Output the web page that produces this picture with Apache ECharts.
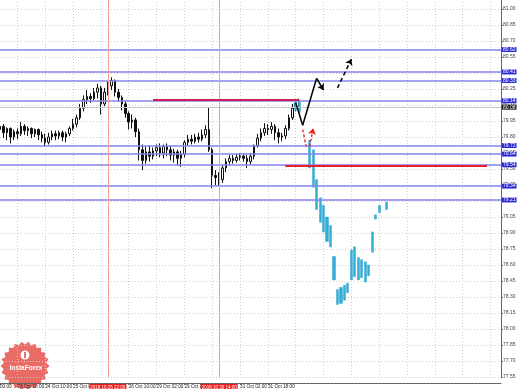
<!DOCTYPE html>
<html><head><meta charset="utf-8">
<script src="https://cdn.jsdelivr.net/npm/echarts@6/dist/echarts.min.js"></script>
<style>html,body{margin:0;padding:0;background:#fff}#c{width:519px;height:389px}</style>
</head><body><div id="c"></div>
<script>
// ---- data ----
const slotCount = 145;
const tickSlots = [0, 5, 13, 21, 37, 45, 53, 69, 77];
const tickLabels = ['00:00', '23 Oct 18:00', '24 Oct 10:00', '25 Oct 02:00', '26 Oct 10:00', '29 Oct 02:00', '29 Oct 18:00', '31 Oct 02:00', '31 Oct 18:00'];

const opens = [79.87,79.90,79.84,79.88,79.80,79.85,79.83,79.90,79.86,79.88,79.83,79.87,79.82,79.79,79.75,79.80,79.83,79.81,79.84,79.80,79.83,79.88,79.92,79.98,80.07,80.15,80.18,80.16,80.22,80.26,80.11,80.22,80.28,80.33,80.22,80.17,80.11,80.02,79.94,79.96,79.85,79.68,79.58,79.66,79.62,79.67,79.70,79.65,79.71,79.68,79.63,79.66,79.60,79.64,79.75,79.78,79.76,79.80,79.78,79.82,79.87,79.68,79.44,79.42,79.40,79.51,79.57,79.60,79.58,79.61,79.62,79.60,79.57,79.62,79.72,79.79,79.84,79.88,79.87,79.90,79.84,79.80,79.81,79.88,79.98,80.07,80.12];
const closes = [79.90,79.84,79.88,79.80,79.85,79.83,79.90,79.86,79.88,79.83,79.87,79.82,79.79,79.75,79.80,79.83,79.81,79.84,79.80,79.83,79.88,79.92,79.98,80.07,80.15,80.18,80.16,80.22,80.26,80.11,80.22,80.28,80.33,80.22,80.17,80.11,80.02,79.94,79.96,79.85,79.68,79.58,79.66,79.62,79.67,79.70,79.65,79.71,79.68,79.63,79.66,79.60,79.64,79.75,79.78,79.76,79.80,79.78,79.82,79.87,79.68,79.44,79.42,79.40,79.51,79.57,79.60,79.58,79.61,79.62,79.60,79.57,79.62,79.72,79.79,79.84,79.88,79.87,79.90,79.84,79.80,79.81,79.88,79.98,80.07,80.12,80.08];
const lows = [79.83,79.79,79.77,79.74,79.77,79.78,79.81,79.82,79.81,79.79,79.80,79.77,79.75,79.71,79.73,79.77,79.77,79.78,79.76,79.75,79.81,79.86,79.89,79.96,80.04,80.11,80.12,80.14,80.16,80.01,80.09,80.19,80.24,80.18,80.13,80.05,79.98,79.87,79.88,79.80,79.58,79.49,79.55,79.57,79.59,79.62,79.61,79.60,79.62,79.58,79.56,79.53,79.52,79.61,79.72,79.73,79.74,79.75,79.76,79.79,79.66,79.32,79.35,79.34,79.37,79.47,79.54,79.55,79.56,79.58,79.57,79.51,79.54,79.59,79.70,79.76,79.81,79.82,79.83,79.77,79.74,79.76,79.78,79.86,79.96,80.04,80.06];
const highs = [79.93,79.92,79.89,79.89,79.87,79.88,79.94,79.92,79.90,79.89,79.88,79.88,79.85,79.83,79.84,79.86,79.86,79.86,79.86,79.85,79.90,79.97,80.01,80.11,80.19,80.24,80.21,80.26,80.30,80.28,80.26,80.32,80.36,80.34,80.25,80.19,80.14,80.04,80.01,79.98,79.88,79.73,79.71,79.72,79.70,79.73,79.74,79.73,79.74,79.72,79.69,79.68,79.67,79.77,79.82,79.82,79.83,79.84,79.87,79.91,80.08,79.70,79.49,79.47,79.54,79.60,79.63,79.63,79.64,79.65,79.65,79.63,79.65,79.73,79.83,79.88,79.93,79.92,79.94,79.92,79.88,79.84,79.91,80.01,80.11,80.15,80.16];

// actual price bars (cyan)
const actualSlots = [85,86,89,90,91,92,93,94,95,96,97,98,99,100,101,102,103,104,105,106,107,108,109,111];
const actualHigh = [80.15,80.13,79.77,79.68,79.40,79.23,79.16,79.05,78.97,78.68,78.37,78.39,78.41,78.43,78.74,78.77,78.67,78.65,78.63,78.60,78.91,79.07,79.16,79.19];
const actualLow  = [80.05,80.03,79.51,79.33,79.12,79.00,78.91,78.82,78.77,78.46,78.23,78.24,78.27,78.34,78.46,78.49,78.46,78.48,78.44,78.50,78.72,79.03,79.09,79.12];

// horizontal levels
const levelPrices = [80.62, 80.41, 80.33, 80.14, 79.72, 79.64, 79.54, 79.34, 79.21];
const currentPrice = 80.08;
const redPrices = [80.15, 79.53];
const redFrom = [44, 82];
const redTo = [86, 140];
const redColors = ['#cc1f55', '#e8202c'];
const vLineSlots = [31, 63];
const vLineLabels = ['2018.10.25 22:00', '2018.10.30 14:00'];

// forecast drawings
const zigX = [85, 87, 91, 93];
const zigY = [80.12, 79.91, 80.35, 80.24];
const dashX = [97, 101];
const dashY = [80.26, 80.53];
const redDashX = [87, 88, 89, 90];
const redDashY = [79.87, 79.71, 79.71, 79.88];

// ---- build ----
const cats = Array.from({length: slotCount}, (_, i) => String(i));
const candleData = opens.map((o, i) => [o, closes[i], lows[i], highs[i]]);
const actualData = actualSlots.map((s, i) => [s, actualHigh[i], actualLow[i], actualLow[i], actualHigh[i]]);
const FONT = 'Liberation Sans';

const ml = [];
levelPrices.forEach(p => ml.push({
  yAxis: p,
  lineStyle: {color: '#8585ec', width: 1.5, type: 'solid', opacity: 1},
  label: {show: true, position: 'end', distance: 1, formatter: p.toFixed(2), backgroundColor: '#2b2bd6', color: '#fff', fontSize: 5, fontFamily: FONT, padding: [0, 1]}
}));
ml.push({
  yAxis: currentPrice,
  lineStyle: {color: '#c4c4c4', width: 1, type: 'solid', opacity: 1},
  label: {show: true, position: 'end', distance: 1, formatter: currentPrice.toFixed(2), backgroundColor: '#111', color: '#fff', fontSize: 5, fontFamily: FONT, padding: [0, 1]}
});
vLineSlots.forEach((s, i) => ml.push({
  xAxis: s,
  lineStyle: {color: '#f2a08c', width: 1, type: 'solid', opacity: 1},
  label: {show: true, position: 'start', distance: 7, formatter: vLineLabels[i], backgroundColor: '#ee1c1c', color: '#fff', fontSize: 4.5, fontFamily: FONT, padding: [1, 1]}
}));
redPrices.forEach((p, i) => ml.push([
  {coord: [redFrom[i], p], lineStyle: {color: redColors[i], width: 2, type: 'solid', opacity: 1}, label: {show: false}},
  {coord: [redTo[i], p]}
]));

function segs(xs, ys, pairs, style) {
  return pairs.map(([a, b]) => ({coords: [[xs[a], ys[a]], [xs[b], ys[b]]], lineStyle: Object.assign({opacity: 1, curveness: 0}, style)}));
}

const starPts = [];
const nSp = 22;
for (let i = 0; i < 2 * nSp; i++) {
  const r = i % 2 ? 21.5 : 24.5;
  const a = Math.PI * i / nSp;
  starPts.push([25 + r * Math.cos(a), 366 + r * Math.sin(a)]);
}

const chart = echarts.init(document.getElementById('c'), null, {renderer: 'canvas'});
chart.setOption({
  animation: false,
  backgroundColor: '#ffffff',
  grid: {left: 0, right: 18, top: -7, bottom: 12, outerBoundsMode: 'none', containLabel: false},
  xAxis: {
    type: 'category', data: cats, boundaryGap: false, offset: 6,
    axisLine: {show: true, lineStyle: {color: '#666', width: 1}},
    axisTick: {show: true, length: 2, interval: (i) => tickSlots.includes(i), lineStyle: {color: '#666'}},
    axisLabel: {
      interval: (i) => tickSlots.includes(i),
      formatter: (v, i) => { const k = tickSlots.indexOf(i); return k >= 0 ? tickLabels[k] : ''; },
      align: 'left', fontSize: 4.7, fontFamily: FONT, color: '#222', margin: 1
    },
    splitLine: {show: true, interval: (i) => i % 8 === 5, lineStyle: {color: '#cfcfcf', type: [1, 2], width: 1}}
  },
  yAxis: {
    type: 'value', position: 'right', min: 77.55, max: 81.15, interval: 0.15,
    axisLine: {show: true, lineStyle: {color: '#666', width: 1}},
    axisTick: {show: true, length: 2, lineStyle: {color: '#666'}},
    axisLabel: {fontSize: 5, fontFamily: FONT, color: '#444', margin: 2, formatter: v => v.toFixed(2)},
    splitLine: {show: true, lineStyle: {color: '#cfcfcf', type: [1, 2], width: 1}}
  },
  graphic: [
    {type: 'polygon', shape: {points: starPts}, style: {fill: '#e4514b', opacity: 0.85}, z: -10, silent: true},
    {type: 'circle', shape: {cx: 25, cy: 355, r: 4.5}, style: {fill: '#ffffff'}, z: -9, silent: true},
    {type: 'rect', shape: {x: 24.2, y: 352, width: 1.6, height: 6}, style: {fill: '#e4514b'}, z: -8, silent: true},
    {type: 'text', style: {text: 'InstaForex', x: 26, y: 368, fill: '#ffffff', font: 'bold 6.5px "Liberation Sans"', textAlign: 'center', textVerticalAlign: 'middle', align: 'center', verticalAlign: 'middle'}, z: -9, silent: true}
  ],
  series: [
    {
      name: 'history', type: 'candlestick', data: candleData, barWidth: 2, silent: true,
      itemStyle: {color: '#ffffff', color0: '#111111', borderColor: '#111111', borderColor0: '#111111', borderWidth: 1},
      markLine: {silent: true, symbol: ['none', 'none'], animation: false, data: ml}
    },
    {
      name: 'actual', type: 'candlestick', data: actualData, encode: {x: 0, y: [1, 2, 3, 4]}, barWidth: 2.6, silent: true, z: 3,
      itemStyle: {color: '#35acd2', color0: '#35acd2', borderColor: '#35acd2', borderColor0: '#35acd2', borderWidth: 0.5}
    },
    {
      name: 'forecastSegs', type: 'lines', coordinateSystem: 'cartesian2d', silent: true, z: 6, symbol: ['none', 'none'],
      lineStyle: {opacity: 1},
      data: [
        ...segs(zigX, zigY, [[0, 1], [1, 2]], {color: '#000', width: 1.5, type: 'solid'}),
        ...segs(redDashX, redDashY, [[0, 1]], {color: '#e02020', width: 1.3, type: [3, 2]})
      ]
    },
    {
      name: 'forecastArrows', type: 'lines', coordinateSystem: 'cartesian2d', silent: true, z: 6,
      symbol: ['none', 'arrow'], symbolSize: 6, lineStyle: {opacity: 1},
      data: [
        ...segs(zigX, zigY, [[2, 3]], {color: '#000', width: 1.5, type: 'solid'}),
        ...segs(dashX, dashY, [[0, 1]], {color: '#000', width: 1.5, type: [4, 3]}),
        ...segs(redDashX, redDashY, [[2, 3]], {color: '#e02020', width: 1.3, type: [3, 2]})
      ]
    }
  ]
});
</script>
</body></html>
